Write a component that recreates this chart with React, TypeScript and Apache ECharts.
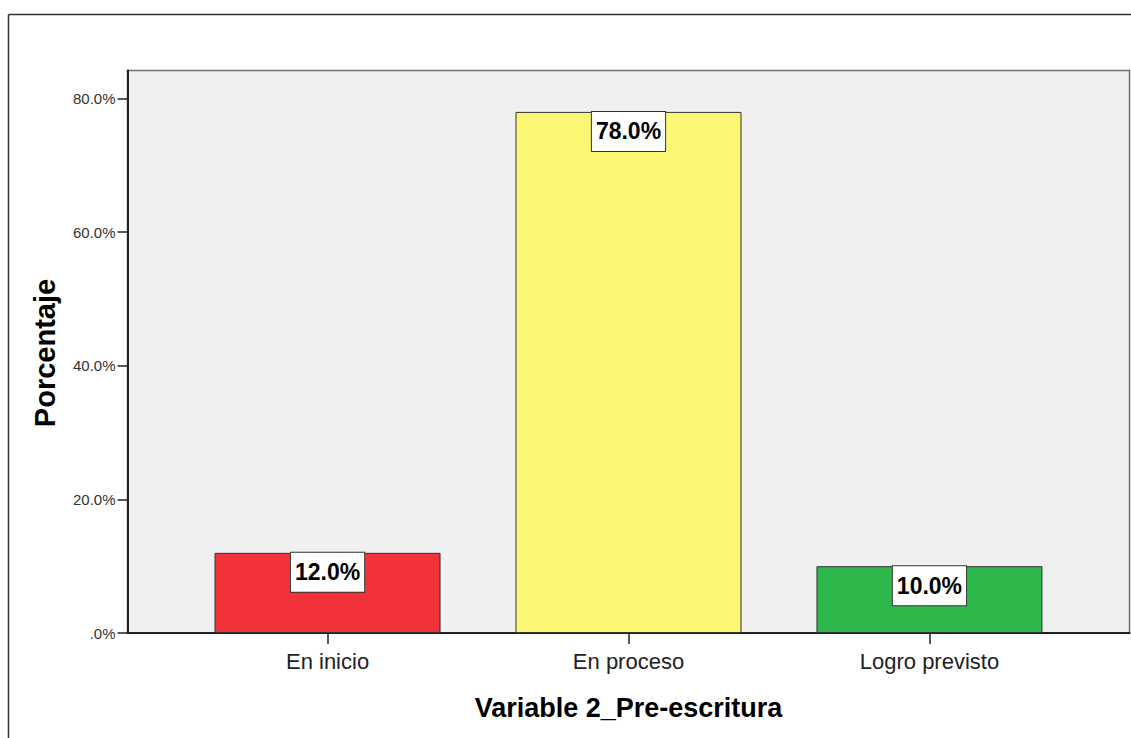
import React, { useEffect, useRef } from "react";
import * as echarts from "echarts";

const categories = ["En inicio", "En proceso", "Logro previsto"];
const values = [12.0, 78.0, 10.0];
const barColors = ["#f1323a", "#fbf674", "#2eb84b"];
const yTicks = [0, 20, 40, 60, 80];
const xTitle = "Variable 2_Pre-escritura";
const yTitle = "Porcentaje";

const FONT = "'Liberation Sans', Arial, sans-serif";

export default function App() {
  const ref = useRef<HTMLDivElement>(null);
  useEffect(() => {
    if (!ref.current) return;
    const chart = echarts.init(ref.current, undefined, { renderer: "svg" });
    const option: any = {
      animation: false,
      backgroundColor: "#ffffff",
      textStyle: { fontFamily: FONT },
      grid: {
        left: 127.5,
        right: 1.5,
        top: 70.5,
        bottom: 105,
        show: true,
        backgroundColor: "#f0f0f0",
        borderColor: "#6e6e6e",
        borderWidth: 1.5,
      },
      xAxis: {
        type: "value",
        min: -0.6647,
        max: 2.6647,
        splitLine: { show: false },
        axisLine: { show: true, onZero: false, lineStyle: { color: "#222", width: 2 } },
        axisTick: { show: true, length: 11, customValues: [0, 1, 2], lineStyle: { color: "#222", width: 1.5 } },
        axisLabel: {
          customValues: [0, 1, 2],
          formatter: (v: number) => categories[Math.round(v)] ?? "",
          fontSize: 22,
          color: "#222",
          margin: 17,
          fontFamily: FONT,
        },
      },
      yAxis: {
        type: "value",
        min: 0,
        max: 84.2,
        splitLine: { show: false },
        axisLine: { show: true, onZero: false, lineStyle: { color: "#222", width: 2 } },
        axisTick: { show: true, length: 10, customValues: yTicks, lineStyle: { color: "#222", width: 1.5 } },
        axisLabel: {
          customValues: yTicks,
          formatter: (v: number) => (v === 0 ? ".0%" : v.toFixed(1) + "%"),
          fontSize: 15,
          color: "#333",
          margin: 12,
          fontFamily: FONT,
        },
      },
      series: [
        {
          type: "bar",
          barWidth: 226,
          data: values.map((v, i) => ({
            value: [i, v],
            itemStyle: { color: barColors[i], borderColor: "#333", borderWidth: 1 },
          })),
          label: {
            show: true,
            position: "insideTop",
            distance: 0,
            formatter: (p: any) => p.value[1].toFixed(1) + "%",
            fontSize: 23,
            fontWeight: "bold",
            fontFamily: FONT,
            color: "#000",
            backgroundColor: "#ffffff",
            borderColor: "#333",
            borderWidth: 1,
            padding: [7, 4, 7, 4],
            lineHeight: 25,
          },
        },
      ],
      graphic: [
        {
          type: "line",
          shape: { x1: 8.5, y1: 14.5, x2: 1131, y2: 14.5 },
          style: { stroke: "#333", lineWidth: 1.5 },
        },
        {
          type: "line",
          shape: { x1: 8.5, y1: 14.5, x2: 8.5, y2: 738 },
          style: { stroke: "#333", lineWidth: 1.5 },
        },
        {
          type: "text",
          x: 628.5,
          y: 708,
          style: {
            text: xTitle,
            font: `bold 27px ${FONT}`,
            fill: "#000",
            align: "center",
            verticalAlign: "middle",
          },
        },
        {
          type: "text",
          x: 44.5,
          y: 353,
          rotation: Math.PI / 2,
          style: {
            text: yTitle,
            font: `bold 29px ${FONT}`,
            fill: "#000",
            align: "center",
            verticalAlign: "middle",
          },
        },
      ],
    };
    chart.setOption(option);
    return () => chart.dispose();
  }, []);
  return (
    <div
      ref={ref}
      style={{ position: "fixed", left: 0, top: 0, width: 1131, height: 738, background: "#fff" }}
    />
  );
}
